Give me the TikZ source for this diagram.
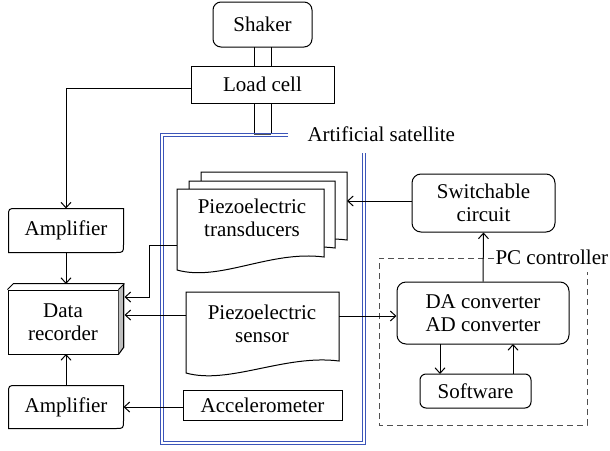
\documentclass[tikz,border=0pt]{standalone}
\usepackage{fontspec}
\setmainfont{Liberation Serif}
\usetikzlibrary{arrows.meta,calc}
\definecolor{satblue}{RGB}{60,85,185}
\definecolor{rgray}{RGB}{190,190,190}
\definecolor{dgray}{RGB}{80,80,80}
\newcommand\pzdoc[5]{% x1 x2 top yl yr
  \filldraw[fill=white] (#1,#3) -- (#2,#3) -- (#2,#5)
    .. controls ({#2-54},{#5-7}) and ({#1+43},{#4+12}) .. (#1,#4) -- cycle;}
\begin{document}
\begin{tikzpicture}[x=1pt,y=-1pt,line width=1pt,
  txt/.style={font=\fontsize{21}{23}\selectfont,align=center,inner sep=0pt},
  sbox/.style={txt,draw},
  rbox/.style={txt,draw,rounded corners=#1},
  ar/.style={-{Straight Barb[length=5.5pt,width=10pt]}}]
\useasboundingbox (0,0) rectangle (610,450);

% shaker and load cell
\node[rbox=8pt,minimum width=99pt,minimum height=45pt] (shaker) at (262.5,24.5) {Shaker};
\node[sbox,minimum width=143pt,minimum height=37pt] (load) at (262.5,84.5) {Load cell};
\draw (254,47) -- (254,66) (271,47) -- (271,66);
\draw (254,103) -- (254,134) (271,103) -- (271,134);
\draw[line width=2.2pt,dgray] (254,134) -- (271,134);

% satellite box
\draw[satblue,line width=0.8pt] (288,133) -- (160,133) -- (160,444) -- (365,444) -- (365,153);
\draw[satblue,line width=0.8pt] (288,136) -- (163,136) -- (163,441) -- (362,441) -- (362,153);
\node[txt,anchor=west] (satlabel) at (307,134.5) {Artificial satellite};

% transducers (stacked documents)
\pzdoc{201}{347}{172}{253}{240}
\pzdoc{189}{335}{181}{261}{248}
\pzdoc{177}{324}{189}{270}{257}
\node[txt] (trans) at (252,218) {Piezoelectric\\transducers};
\coordinate (transL) at (177,245);
\coordinate (transR) at (347,201);

% sensor
\pzdoc{186}{339}{292}{373}{361}
\node[txt] (sens) at (262,323.5) {Piezoelectric\\sensor};
\coordinate (sensL) at (186,315);
\coordinate (sensR) at (339,316);

% accelerometer
\node[sbox,minimum width=159pt,minimum height=30pt] (acc) at (262.5,405) {Accelerometer};

% amplifiers
\node[txt,minimum width=114pt,minimum height=43pt] (amp1) at (66,230.5) {Amplifier};
\node[txt,minimum width=114pt,minimum height=42pt] (amp2) at (66,407) {Amplifier};
\foreach \a in {amp1,amp2}{
  \draw (\a.south west) -- ($(\a.north west)+(0,8)$) .. controls (\a.north west) .. ($(\a.north west)+(8,0)$)
    -- (\a.north east) -- ($(\a.south east)+(0,-8)$) .. controls (\a.south east) .. ($(\a.south east)+(-8,0)$) -- cycle;
}

% data recorder
\node[sbox,minimum width=110pt,minimum height=64pt] (dr) at (63,322) {Data\\recorder};
\fill[rgray] (dr.north east) -- ++(6,-6) -- ++(0,64) -- (dr.south east) -- cycle;
\draw[line join=round] (dr.north west) -- ++(6,-6) -- ++(110,0) -- ++(0,64) -- (dr.south east);
\draw (dr.north east) -- ++(6,-6);
\coordinate (drtop) at (66,284);
\coordinate (drbot) at (66,354);

% right side
\node[rbox=9pt,minimum width=143pt,minimum height=58pt] (sw) at (483.5,203) {Switchable\\circuit};
\node[rbox=9pt,minimum width=172pt,minimum height=62pt] (da) at (483,313) {DA converter\\AD converter};
\node[rbox=6pt,minimum width=111pt,minimum height=34pt] (soft) at (475.5,391) {Software};
\draw[dgray,dashed,dash pattern=on 6pt off 4pt] (494,258) -- (379,258) -- (379,425) -- (587,425) -- (587,272);
\node[txt,anchor=west] (pclabel) at (495,257.5) {PC controller};

% connectors
\draw[ar] ($(load.west)+(0,3.5)$) -| (amp1.north);
\draw[ar] (amp1.south) -- (drtop);
\draw[ar] (amp2.north) -- (drbot);
\draw[ar] (transL) -- (149,245) |- (124.5,297);
\draw[ar] (sensL) -- (124.5,315);
\draw[ar] (acc.west |- 0,407) -- (amp2.east |- 0,407);
\draw[ar] (sensR) -- (da.west |- sensR);
\draw[ar] (sw.west |- transR) -- (transR);
\draw[ar] (da.north) -- (sw.south);
\draw[ar] (440,344) -- (440,374);
\draw[ar] (513,374) -- (513,344);
\end{tikzpicture}
\end{document}
